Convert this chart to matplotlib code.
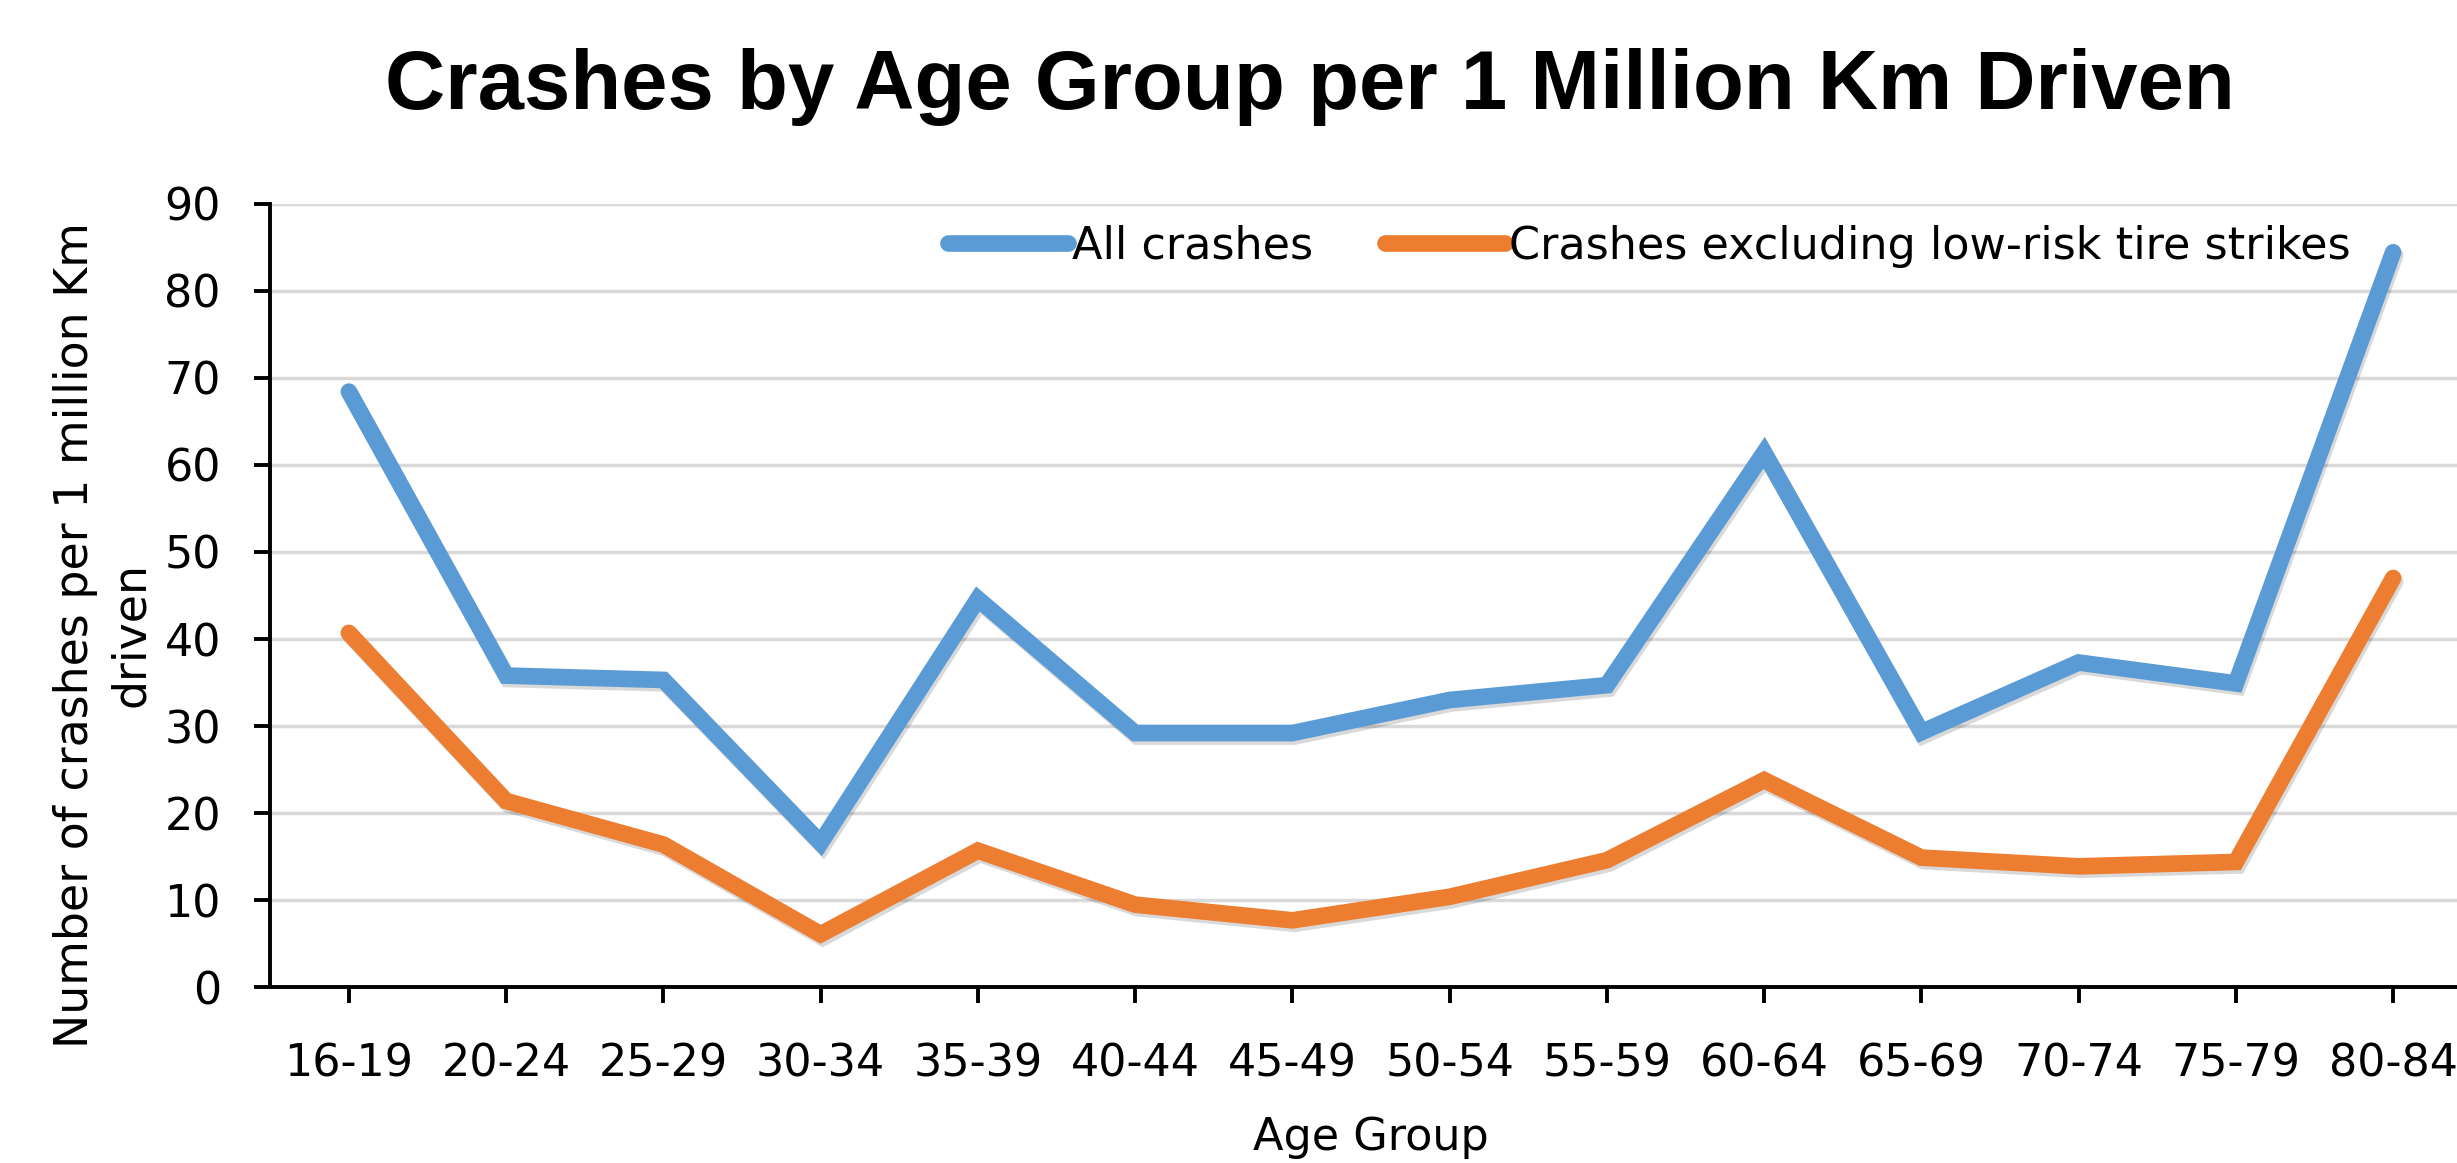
import numpy as np
import matplotlib
matplotlib.use('Agg')
import matplotlib.pyplot as plt
import matplotlib.patheffects as pe

#=====Data=====
age_groups = ['16-19', '20-24', '25-29', '30-34', '35-39', '40-44', '45-49',
              '50-54', '55-59', '60-64', '65-69', '70-74', '75-79', '80-84']
all_crashes = [68.4, 35.8, 35.3, 16.6, 44.6, 29.2, 29.2,
               33.0, 34.7, 61.4, 29.3, 37.3, 34.9, 84.4]
excl_tire = [40.7, 21.4, 16.4, 6.1, 15.7, 9.5, 7.7,
             10.4, 14.6, 23.8, 14.9, 13.9, 14.4, 47.0]

#=====Figure=====
fig = plt.figure(figsize=(24.57, 11.63), dpi=100)
ax = fig.add_axes([0.110, 0.151, 0.896, 0.674])

x = np.arange(len(age_groups))
shadow = [pe.SimpleLineShadow(offset=(1.5, -2.5), alpha=0.15, shadow_color='black'), pe.Normal()]

ax.plot(x, all_crashes, color='#5B9BD5', lw=12, solid_capstyle='round',
        solid_joinstyle='miter', label='All crashes', path_effects=shadow, zorder=3)
ax.plot(x, excl_tire, color='#ED7D31', lw=12, solid_capstyle='round',
        solid_joinstyle='miter', label='Crashes excluding low-risk tire strikes',
        path_effects=shadow, zorder=3)

#=====Axes styling=====
ax.set_xlim(-0.5, len(age_groups) - 0.5)
ax.set_ylim(0, 90)
ax.set_yticks(np.arange(0, 91, 10))
ax.set_xticks(x)
ax.set_xticklabels(age_groups)
ax.yaxis.grid(True, color='#d9d9d9', lw=2.5)
ax.set_axisbelow(True)
for s in ['top', 'right']:
    ax.spines[s].set_visible(False)
for s in ['left', 'bottom']:
    ax.spines[s].set_linewidth(2.8)
    ax.spines[s].set_color('black')
ax.tick_params(axis='both', direction='out', length=11.5, width=2.8,
               labelsize=32)
ax.tick_params(axis='y', pad=24)
ax.tick_params(axis='x', pad=28)

ax.set_xlabel('Age Group', fontsize=32, labelpad=22)
ax.set_ylabel('Number of crashes per 1 million Km\ndriven', fontsize=33,
              linespacing=1.3)
ax.yaxis.set_label_coords(-0.053, 0.45)

fig.text(0.533, 0.925, 'Crashes by Age Group per 1 Million Km Driven',
         fontsize=60, fontweight='bold', family='Liberation Sans',
         ha='center', va='center')

leg = ax.legend(loc='center left', bbox_to_anchor=(948 / 2457, 1 - 246 / 1163),
                bbox_transform=fig.transFigure, ncol=2, frameon=False,
                fontsize=32, handlelength=2.7, handletextpad=0.1,
                columnspacing=1.6, borderpad=0, borderaxespad=0)
for h in leg.get_lines():
    h.set_path_effects([])

fig.savefig('out.png', dpi=100, facecolor='white')
